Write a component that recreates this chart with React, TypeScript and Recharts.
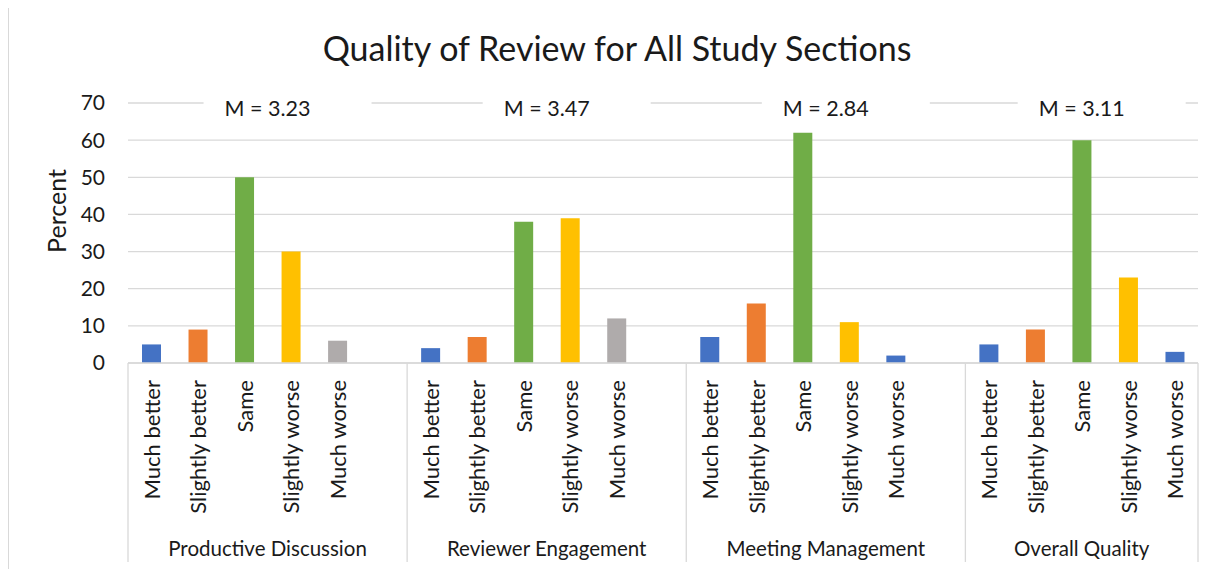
import { BarChart, Bar, XAxis, YAxis, CartesianGrid, Cell, ReferenceLine } from 'recharts'

const categories = ['Much better', 'Slightly better', 'Same', 'Slightly worse', 'Much worse']
const groups = ['Productive Discussion', 'Reviewer Engagement', 'Meeting Management', 'Overall Quality']
const means = ['3.23', '3.47', '2.84', '3.11']
const productiveDiscussion = [5, 9, 50, 30, 6]
const reviewerEngagement = [4, 7, 38, 39, 12]
const meetingManagement = [7, 16, 62, 11, 2]
const overallQuality = [5, 9, 60, 23, 3]
const yTicks = [0, 10, 20, 30, 40, 50, 60, 70]

const BLUE = '#4472C4'
const ORANGE = '#ED7D31'
const GREEN = '#70AD47'
const YELLOW = '#FFC000'
const GRAY = '#AFABAB'
// excel ran out of points in the last two groups, so "Much worse" went back to blue
const groupColors = [
  [BLUE, ORANGE, GREEN, YELLOW, GRAY],
  [BLUE, ORANGE, GREEN, YELLOW, GRAY],
  [BLUE, ORANGE, GREEN, YELLOW, BLUE],
  [BLUE, ORANGE, GREEN, YELLOW, BLUE],
]

const seriesByGroup = [productiveDiscussion, reviewerEngagement, meetingManagement, overallQuality]

// one row per slot, with an empty slot after each group except the last
type Row = { id: string; g: number; pos: number; label: string; value: number | null }
const rows: Row[] = []
groups.forEach((_, g) => {
  categories.forEach((c, i) => {
    rows.push({ id: `${g}-${i}`, g, pos: i, label: c, value: seriesByGroup[g][i] })
  })
  if (g < groups.length - 1) rows.push({ id: `${g}-blank`, g, pos: 5, label: '', value: null })
})
const groupSize = (g: number) => rows.filter((r) => r.g === g).length

const FONT = 'Lato, "Open Sans", sans-serif'
const TEXT = '#1a1a1a'
const LINE = '#D9D9D9'

const W = 1215
const H = 565
const PLOT_W = 1070

function CategoryTick(props: any) {
  const { x, y, payload } = props
  const idx = payload.index
  const row = rows[idx]
  const half = payload.offset ?? PLOT_W / rows.length / 2
  const parts: any[] = []
  if (row.label) {
    parts.push(
      <text
        key="t"
        x={x}
        y={y + 17}
        transform={`rotate(-90, ${x}, ${y + 17})`}
        textAnchor="end"
        dominantBaseline="central"
        fontSize={22}
        fill={TEXT}
        fontFamily={FONT}
      >
        {row.label}
      </text>
    )
  }
  if (row.pos === 0) {
    const left = x - half
    const gw = groupSize(row.g) * half * 2
    parts.push(<line key="l" x1={left} x2={left} y1={y} y2={y + 199} stroke={LINE} strokeWidth={1.3} />)
    parts.push(
      <text
        key="g"
        x={left + gw / 2}
        y={y + 185}
        textAnchor="middle"
        dominantBaseline="central"
        fontSize={20.5}
        fill={TEXT}
        fontFamily={FONT}
      >
        {groups[row.g]}
      </text>
    )
  }
  if (idx === rows.length - 1) {
    parts.push(<line key="r" x1={x + half} x2={x + half} y1={y} y2={y + 199} stroke={LINE} strokeWidth={1.3} />)
  }
  return <g>{parts}</g>
}

function MeanLabel(text: string) {
  return (props: any) => {
    const { x1, x2, y1 } = props
    const c = (x1 + x2) / 2
    return (
      <g>
        <rect x={c - 64} y={y1 - 12} width={168} height={26} fill="#fff" />
        <text x={c} y={y1 + 5} textAnchor="middle" dominantBaseline="central" fontSize={21.5} fill={TEXT} fontFamily={FONT}>
          M = {text}
        </text>
      </g>
    )
  }
}

function PercentLabel(props: any) {
  const { viewBox } = props
  const x = viewBox.x + 28
  const y = viewBox.y + viewBox.height / 2 - 22
  return (
    <text
      x={x}
      y={y}
      transform={`rotate(-90, ${x}, ${y})`}
      textAnchor="middle"
      dominantBaseline="central"
      fontSize={25}
      fill={TEXT}
      fontFamily={FONT}
    >
      Percent
    </text>
  )
}

export default function App() {
  return (
    <div style={{ position: 'relative', width: W, height: H, marginTop: -4, fontFamily: FONT }}>
      <div
        style={{
          position: 'absolute',
          left: 0,
          top: 0,
          width: W + 20,
          height: H + 20,
          borderLeft: `1.5px solid ${LINE}`,
          borderTop: `1.5px solid ${LINE}`,
          boxSizing: 'border-box',
        }}
      />
      <div
        style={{
          position: 'absolute',
          left: 0,
          top: 26,
          width: 1218,
          textAlign: 'center',
          fontSize: 34,
          lineHeight: '36px',
          color: TEXT,
        }}
      >
        Quality of Review for All Study Sections
      </div>
      <div style={{ position: 'absolute', left: 0, top: 0 }}>
        <BarChart width={W} height={H} data={rows} margin={{ top: 99, right: 25, left: 20, bottom: 0 }} barSize={19}>
          <CartesianGrid vertical={false} stroke={LINE} strokeWidth={1.3} />
          <XAxis
            dataKey="id"
            interval={0}
            height={206}
            tickLine={false}
            tickSize={0}
            tickMargin={0}
            axisLine={{ stroke: LINE, strokeWidth: 1.3 }}
            tick={<CategoryTick />}
          />
          <YAxis
            width={100}
            domain={[0, 70]}
            ticks={yTicks}
            axisLine={false}
            tickLine={false}
            tickMargin={17}
            tick={{ fill: TEXT, fontSize: 21, fontFamily: FONT }}
            label={<PercentLabel />}
          />
          <Bar dataKey="value" isAnimationActive={false}>
            {rows.map((r) => (
              <Cell key={r.id} fill={r.pos < 5 ? groupColors[r.g][r.pos] : 'none'} />
            ))}
          </Bar>
          {groups.map((_, g) => {
            const ids = rows.filter((r) => r.g === g).map((r) => r.id)
            return (
              <ReferenceLine
                key={g}
                segment={[
                  { x: ids[0], y: 70 },
                  { x: ids[ids.length - 1], y: 70 },
                ]}
                shape={MeanLabel(means[g])}
              />
            )
          })}
        </BarChart>
      </div>
    </div>
  )
}
